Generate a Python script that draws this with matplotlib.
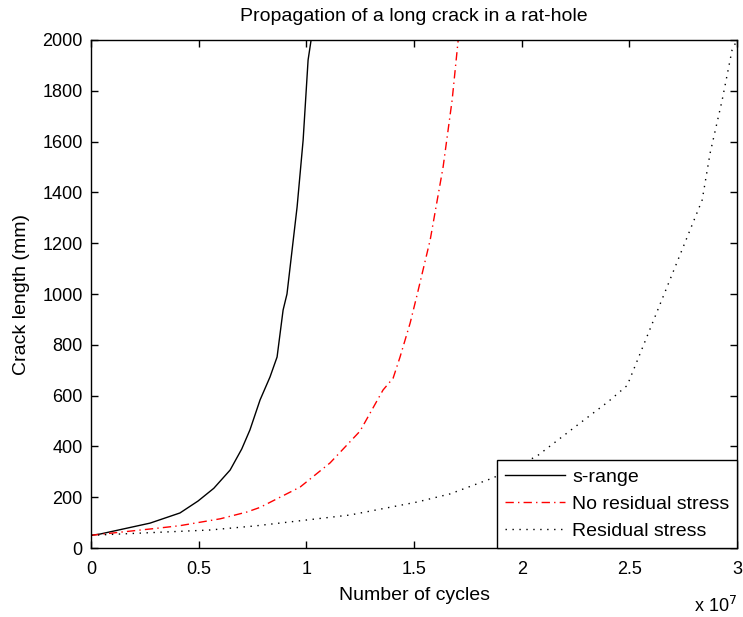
import matplotlib.pyplot as plt
import numpy as np

plt.rcParams["font.family"] = ["Liberation Sans", "DejaVu Sans"]

# cycles (x 1e7) and crack length (mm)
s_range_n = [0.0, 0.042, 0.274, 0.413, 0.497, 0.57, 0.646, 0.70, 0.738, 0.785,
             0.831, 0.864, 0.892, 0.910, 0.957, 0.985, 1.008, 1.022]
s_range_a = [50, 55, 98, 138, 185, 235, 307, 390, 465, 583,
             673, 752, 937, 1000, 1343, 1606, 1921, 2000]

no_res_n = [0.0, 0.32, 0.413, 0.60, 0.725, 0.785, 0.971, 1.11, 1.249, 1.356,
            1.403, 1.435, 1.482, 1.514, 1.575, 1.635, 1.677, 1.705]
no_res_a = [50, 79, 88, 115, 142, 160, 240, 335, 460, 622,
            669, 752, 886, 996, 1213, 1500, 1764, 2000]

res_n = [0.0, 0.553, 0.762, 1.203, 1.514, 1.667, 1.867, 2.071, 2.271, 2.40,
         2.49, 2.675, 2.838, 2.875, 2.931, 2.977, 3.0]
res_a = [50, 71, 87, 130, 181, 213, 276, 362, 492, 575,
         640, 1028, 1370, 1555, 1764, 1961, 2000]

fig = plt.figure(figsize=(7.43, 6.17), dpi=100)
ax = fig.add_axes([0.1225, 0.1118, 0.8695, 0.8234])

ax.plot(np.array(s_range_n) * 1e7, s_range_a, color="black", lw=1.0, label="s-range")
ax.plot(np.array(no_res_n) * 1e7, no_res_a, color="red", lw=1.0,
        dashes=(6, 3, 1, 3), label="No residual stress")
ax.plot(np.array(res_n) * 1e7, res_a, color="black", lw=1.0,
        dashes=(1, 4), label="Residual stress")

ax.set_xlim(0, 3e7)
ax.set_ylim(0, 2000)
ax.set_xticks(np.arange(0, 3.01e7, 0.5e7))
ax.set_xticklabels(["0", "0.5", "1", "1.5", "2", "2.5", "3"])
ax.set_yticks(np.arange(0, 2001, 200))
ax.tick_params(direction="in", top=True, right=True, length=5, labelsize=13,
               width=1, pad=6)
ax.tick_params(axis="x", pad=9)
for sp in ax.spines.values():
    sp.set_linewidth(1)

ax.set_title("Propagation of a long crack in a rat-hole", fontsize=14, pad=14)
ax.set_xlabel("Number of cycles", fontsize=14, labelpad=7)
ax.set_ylabel("Crack length (mm)", fontsize=14, labelpad=9)
ax.text(1.0, -0.095, r"x 10$^7$", transform=ax.transAxes, fontsize=13,
        ha="right", va="top")

leg = ax.legend(loc="lower right", fontsize=14, borderaxespad=0, fancybox=False,
                framealpha=1, handlelength=3.1, handletextpad=0.36,
                labelspacing=0.5, borderpad=0.4)
leg.get_frame().set_edgecolor("black")
leg.get_frame().set_linewidth(1)

fig.savefig("out.png")
